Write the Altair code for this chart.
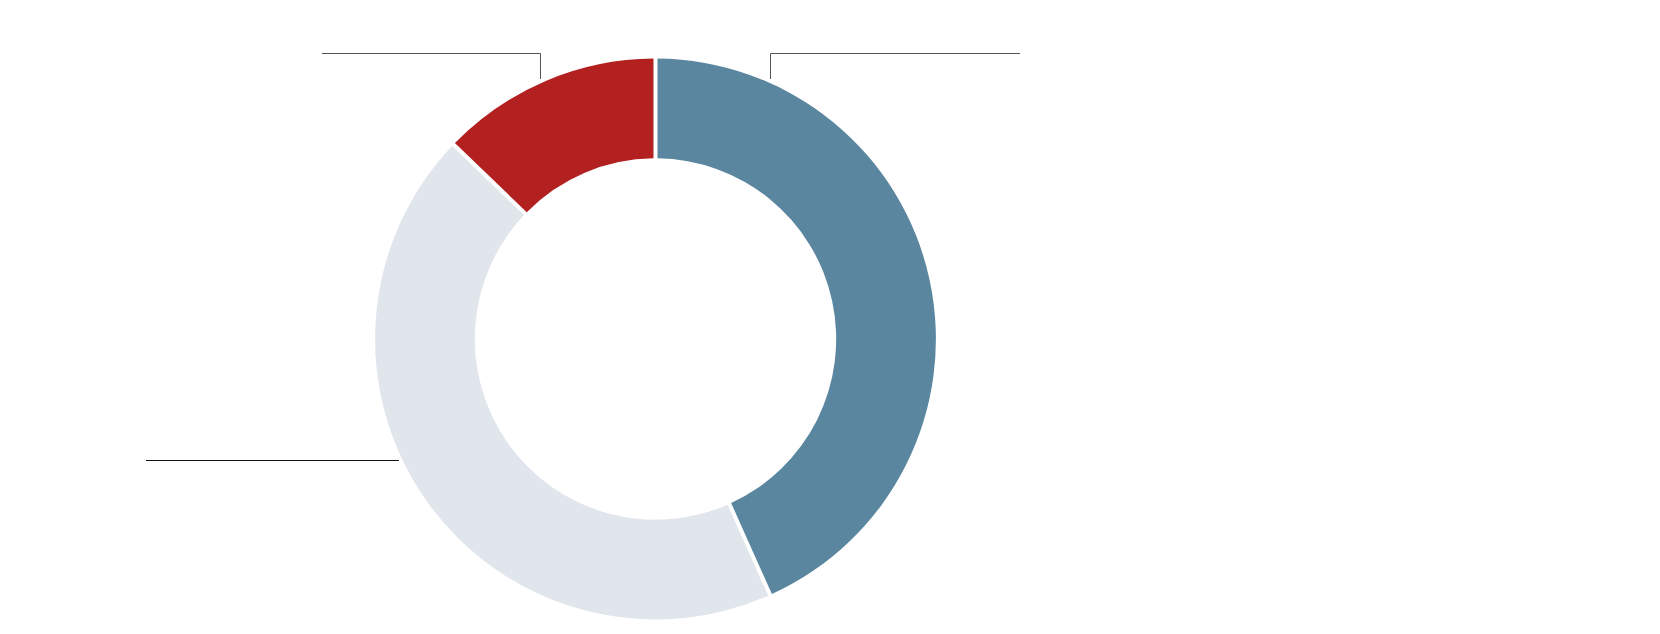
import altair as alt
import pandas as pd

# Slice data (share of the whole)
categories = ["A", "B", "C"]
values = [43.3, 43.9, 12.8]
slice_order = [0, 1, 2]
slice_colors = ["#5a869f", "#e1e5ec", "#b22020"]

# Leader-line annotations, in pixels relative to the donut centre (y up)
line_ids = ["C", "C", "C", "A", "A", "A", "B", "B"]
line_x = [-333.5, -115.0, -115.0, 115.0, 115.0, 364.5, -509.5, -256.5]
line_y = [285.5, 285.5, 260.0, 260.0, 285.5, 285.5, -121.5, -121.5]
line_seq = [0, 1, 2, 0, 1, 2, 0, 1]
line_ids_all = ["A", "B", "C"]
line_colors = ["#555555", "#111111", "#555555"]

W, H = 1644, 618
CX, CY = 647.5, 331.0
R_OUT, R_IN = 280.4, 180.7

slices = pd.DataFrame({"cat": categories, "value": values, "ord": slice_order})
lines = pd.DataFrame({"id": line_ids, "x": line_x, "y": line_y, "seq": line_seq})

donut = alt.Chart(slices).mark_arc(
    innerRadius=R_IN, outerRadius=R_OUT, padAngle=0.012
).encode(
    theta=alt.Theta("value:Q", stack=True),
    color=alt.Color("cat:N", scale=alt.Scale(domain=categories, range=slice_colors), legend=None),
    order=alt.Order("ord:Q"),
    x=alt.value(CX),
    y=alt.value(CY),
)

leaders = alt.Chart(lines).mark_line(strokeWidth=1).encode(
    x=alt.X("x:Q", scale=alt.Scale(domain=[-CX, W - CX], nice=False, zero=False), axis=None),
    y=alt.Y("y:Q", scale=alt.Scale(domain=[-(H - CY), CY], nice=False, zero=False), axis=None),
    detail="id:N",
    order=alt.Order("seq:Q"),
    stroke=alt.Stroke("id:N", scale=alt.Scale(domain=line_ids_all, range=line_colors), legend=None),
)

chart = alt.layer(donut, leaders).resolve_scale(color="independent").properties(
    width=W, height=H, padding=0, autosize=alt.AutoSizeParams(type="none")
).configure_view(stroke=None)

chart.save("out.html", embed_options={"renderer": "svg", "actions": False})
